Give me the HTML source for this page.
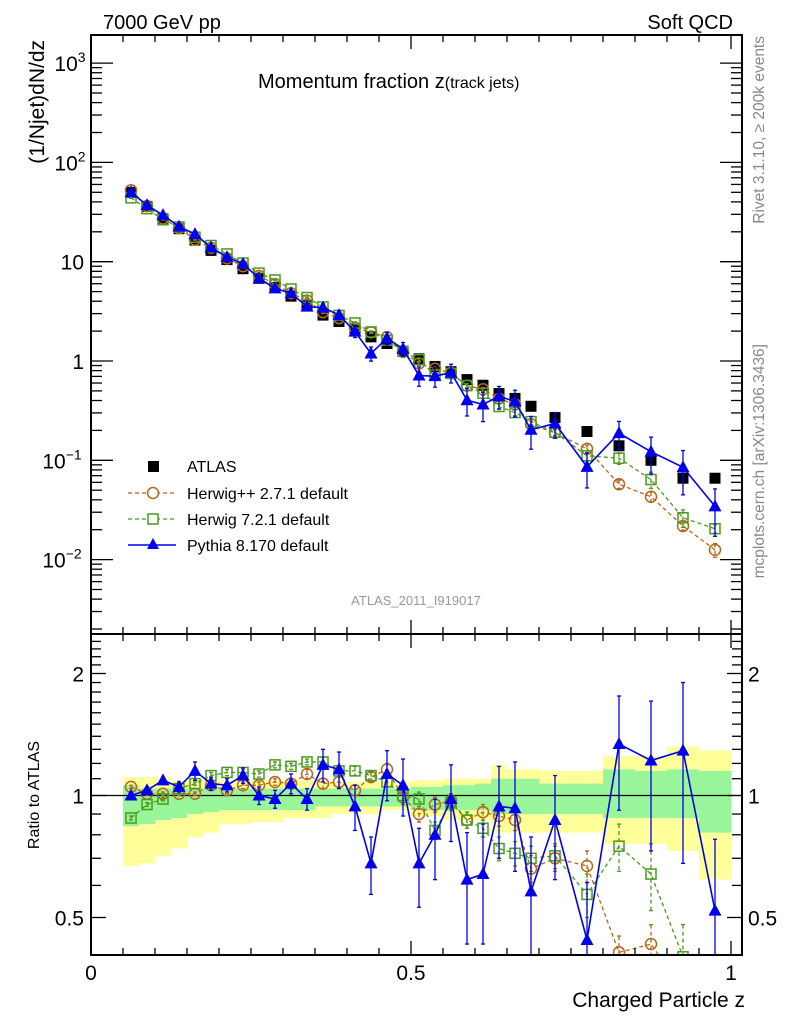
<!DOCTYPE html>
<html><head><meta charset="utf-8"><style>
html,body{margin:0;padding:0;background:#fff;width:786px;height:1024px;overflow:hidden;}
svg{display:block;font-family:"Liberation Sans",sans-serif;}
</style></head><body>
<svg id="chart" width="786" height="1024" viewBox="0 0 786 1024" xmlns="http://www.w3.org/2000/svg">
<text x="103" y="29" font-size="20">7000 GeV pp</text>
<text x="733" y="29" font-size="20" text-anchor="end">Soft QCD</text>
<text x="258" y="88" font-size="20">Momentum fraction z<tspan font-size="16">(track jets)</tspan></text>
<text transform="translate(44,40) rotate(-90)" font-size="21" text-anchor="end">(1/Njet)dN/dz</text>
<text transform="translate(764,36) rotate(-90)" font-size="15.5" fill="#888" text-anchor="end">Rivet 3.1.10, ≥ 200k events</text>
<text transform="translate(764,344) rotate(-90)" font-size="15.5" fill="#888" text-anchor="end">mcplots.cern.ch [arXiv:1306.3436]</text>
<text x="416" y="605" font-size="13" fill="#999" text-anchor="middle">ATLAS_2011_I919017</text>
<text transform="translate(39,795) rotate(-90)" font-size="16" text-anchor="middle">Ratio to ATLAS</text>
<text x="745" y="1007" font-size="21" text-anchor="end">Charged Particle z</text>
<g id="bands"></g>
<g id="main"></g>
<g id="ratio"></g>
<g id="axes"></g>
<g id="legend">
 <rect x="148" y="461" width="11" height="11" fill="#000"/>
 <text x="187" y="472" font-size="16">ATLAS</text>
 <line x1="128" y1="493" x2="176" y2="493" stroke="#b8651a" stroke-width="1.3" stroke-dasharray="4,3"/>
 <circle cx="153" cy="493" r="5.5" fill="#fff" stroke="#b8651a" stroke-width="1.5"/>
 <text x="187" y="499" font-size="16">Herwig++ 2.7.1 default</text>
 <line x1="128" y1="519" x2="176" y2="519" stroke="#4a9a1c" stroke-width="1.3" stroke-dasharray="4,3"/>
 <rect x="148" y="514" width="10" height="10" fill="#fff" stroke="#4a9a1c" stroke-width="1.5"/>
 <text x="187" y="525" font-size="16">Herwig 7.2.1 default</text>
 <line x1="128" y1="545" x2="176" y2="545" stroke="#0000ee" stroke-width="1.5"/>
 <polygon points="153,538 159,549 147,549" fill="#0000ee"/>
 <text x="187" y="551" font-size="16">Pythia 8.170 default</text>
</g>
</svg>
<script>
const binCenters=[0.0625,0.0875,0.1125,0.1375,0.1625,0.1875,0.2125,0.2375,0.2625,0.2875,0.3125,0.3375,0.3625,0.3875,0.4125,0.4375,0.4625,0.4875,0.5125,0.5375,0.5625,0.5875,0.6125,0.6375,0.6625,0.6875,0.725,0.775,0.825,0.875,0.925,0.975];
const binLo=[0.05,0.075,0.1,0.125,0.15,0.175,0.2,0.225,0.25,0.275,0.3,0.325,0.35,0.375,0.4,0.425,0.45,0.475,0.5,0.525,0.55,0.575,0.6,0.625,0.65,0.675,0.7,0.75,0.8,0.85,0.9,0.95];
const binHi=[0.075,0.1,0.125,0.15,0.175,0.2,0.225,0.25,0.275,0.3,0.325,0.35,0.375,0.4,0.425,0.45,0.475,0.5,0.525,0.55,0.575,0.6,0.625,0.65,0.675,0.7,0.75,0.8,0.85,0.9,0.95,1.0];
const atlas=[50,36,27,21.5,16.5,13,10.5,8.5,6.8,5.5,4.5,3.6,2.9,2.5,2.1,1.75,1.5,1.25,1.05,0.88,0.78,0.65,0.57,0.47,0.42,0.35,0.27,0.195,0.14,0.1,0.066,0.066];
const pythiaRatio=[1.0,1.03,1.09,1.05,1.15,1.07,1.06,1.12,1.0,0.98,1.07,0.98,1.19,1.16,0.94,0.68,1.13,1.06,0.68,0.8,0.98,0.62,0.64,0.94,0.93,0.58,0.87,0.44,1.34,1.22,1.29,0.52];
const pythiaErr=[0.02,0.02,0.02,0.03,0.06,0.04,0.04,0.05,0.05,0.05,0.06,0.06,0.11,0.12,0.12,0.11,0.16,0.17,0.15,0.18,0.21,0.19,0.21,0.24,0.28,0.21,0.25,0.17,0.42,0.49,0.61,0.26];
const herwigppRatio=[1.05,1.01,1.01,1.01,1.01,1.06,1.03,1.06,1.06,1.08,1.07,1.13,1.07,1.08,1.03,1.11,1.16,0.99,0.9,0.95,0.97,0.87,0.91,0.89,0.87,0.66,0.7,0.67,0.41,0.43,0.33,0.19];
const herwigppErr=[0.01,0.01,0.01,0.01,0.01,0.02,0.02,0.02,0.02,0.02,0.02,0.03,0.03,0.03,0.03,0.03,0.04,0.04,0.04,0.04,0.04,0.04,0.04,0.05,0.05,0.05,0.05,0.06,0.04,0.05,0.03,0.03];
const herwig7Ratio=[0.88,0.95,0.98,1.04,1.07,1.12,1.14,1.14,1.13,1.19,1.18,1.21,1.21,1.15,1.15,1.12,1.08,1.0,0.98,0.82,0.96,0.87,0.83,0.74,0.72,0.7,0.71,0.57,0.75,0.64,0.4,0.31];
const herwig7Err=[0.01,0.01,0.01,0.01,0.01,0.02,0.02,0.02,0.02,0.02,0.02,0.02,0.03,0.03,0.03,0.03,0.03,0.04,0.04,0.04,0.04,0.04,0.04,0.05,0.05,0.05,0.05,0.07,0.1,0.12,0.08,0.03];
const yellowHi=[1.11,1.11,1.11,1.09,1.09,1.09,1.09,1.09,1.09,1.09,1.09,1.09,1.08,1.08,1.08,1.08,1.08,1.08,1.09,1.09,1.1,1.1,1.1,1.19,1.16,1.16,1.15,1.15,1.25,1.25,1.32,1.29];
const yellowLo=[0.67,0.68,0.71,0.74,0.79,0.81,0.85,0.85,0.86,0.86,0.88,0.88,0.88,0.9,0.9,0.9,0.92,0.92,0.89,0.89,0.87,0.87,0.87,0.81,0.81,0.81,0.81,0.81,0.76,0.76,0.73,0.62];
const greenHi=[1.06,1.04,1.04,1.04,1.04,1.04,1.04,1.04,1.04,1.04,1.04,1.04,1.04,1.04,1.04,1.04,1.04,1.04,1.05,1.05,1.06,1.06,1.07,1.1,1.1,1.1,1.07,1.07,1.16,1.15,1.16,1.15];
const greenLo=[0.84,0.85,0.87,0.88,0.9,0.91,0.92,0.92,0.92,0.92,0.92,0.92,0.94,0.94,0.94,0.94,0.94,0.94,0.92,0.92,0.92,0.92,0.92,0.9,0.9,0.9,0.9,0.9,0.88,0.88,0.88,0.81];
const mainTickLabels=["10","1"];

const NS="http://www.w3.org/2000/svg";
const X0=91,X1=742,ZX0=91,ZSC=640;
const MT=35,MB=634,RT=634,RB=955;
function sx(z){return ZX0+ZSC*z;}
function sy(v){return 361-99.3*Math.log10(v);}
function ry(r){return 795.5-122*Math.log2(r);}
function clamp(v,a,b){return Math.max(a,Math.min(b,v));}
function mk(tag,attrs,parent){const e=document.createElementNS(NS,tag);for(const k in attrs)e.setAttribute(k,attrs[k]);parent.appendChild(e);return e;}
const gB=document.getElementById('bands'),gM=document.getElementById('main'),gR=document.getElementById('ratio'),gA=document.getElementById('axes');

// build a polyline path clipped in y to [top,bot]
function clippedPath(pts,top,bot){
  let d='',pen=false;
  for(let i=0;i<pts.length-1;i++){
    let [xa,ya]=pts[i],[xb,yb]=pts[i+1];
    // clip segment
    let t0=0,t1=1;const dy=yb-ya;
    if(dy!==0){
      const tt=(top-ya)/dy,tb=(bot-ya)/dy;
      const lo=Math.min(tt,tb),hi=Math.max(tt,tb);
      t0=Math.max(t0,lo);t1=Math.min(t1,hi);
    }else if(ya<top||ya>bot){pen=false;continue;}
    if(t0>t1){pen=false;continue;}
    const x0=xa+(xb-xa)*t0,y0=ya+dy*t0,x1=xa+(xb-xa)*t1,y1=ya+dy*t1;
    if(!pen||t0>0)d+='M'+x0.toFixed(2)+','+y0.toFixed(2);
    d+='L'+x1.toFixed(2)+','+y1.toFixed(2);
    pen=(t1===1);
  }
  return d;
}

const defs=mk('defs',{},document.getElementById('chart'));
const c1=mk('clipPath',{id:'cm'},defs);mk('rect',{x:X0,y:MT,width:X1-X0,height:MB-MT},c1);
const c2=mk('clipPath',{id:'cr'},defs);mk('rect',{x:X0,y:RT,width:X1-X0,height:RB-RT},c2);
gM.setAttribute('clip-path','url(#cm)');gR.setAttribute('clip-path','url(#cr)');gB.setAttribute('clip-path','url(#cr)');

for(let i=0;i<binCenters.length;i++){
  const y=mk('rect',{x:sx(binLo[i]),width:sx(binHi[i])-sx(binLo[i])+0.5,y:ry(yellowHi[i]),height:ry(yellowLo[i])-ry(yellowHi[i]),fill:'#ffff99'},gB);
  
  
  const g=mk('rect',{x:sx(binLo[i]),width:sx(binHi[i])-sx(binLo[i])+0.5,y:ry(greenHi[i]),height:ry(greenLo[i])-ry(greenHi[i]),fill:'#99f599'},gB);
  
  
}
const one=mk('line',{x1:X0,x2:X1,y1:ry(1),y2:ry(1),stroke:'#000','stroke-width':1.3},gB);



const series=[
 {name:'herwigpp',ratio:herwigppRatio,err:herwigppErr,color:'#b8651a',dash:'4,3',marker:'circle'},
 {name:'herwig7',ratio:herwig7Ratio,err:herwig7Err,color:'#4a9a1c',dash:'4,3',marker:'square'},
 {name:'pythia',ratio:pythiaRatio,err:pythiaErr,color:'#0000ee',dash:'',marker:'tri'}
];
function marker(s,cx,cy,top,bot,parent,label){
  if(cy<top-3||cy>bot+3)return;
  let e;
  if(s.marker==='circle')e=mk('circle',{cx:cx,cy:cy,r:5.5,fill:'none',stroke:s.color,'stroke-width':1.5},parent);
  else if(s.marker==='square')e=mk('rect',{x:cx-5,y:cy-5,width:10,height:10,fill:'none',stroke:s.color,'stroke-width':1.5},parent);
  else e=mk('polygon',{points:(cx)+','+(cy-7)+' '+(cx+6.5)+','+(cy+5)+' '+(cx-6.5)+','+(cy+5),fill:s.color},parent);
  
  
}
function errbar(s,cx,y1,y2,top,bot,parent){
  const a=clamp(y1,top,bot),b=clamp(y2,top,bot);
  if(a===b)return;
  mk('line',{x1:cx,x2:cx,y1:a,y2:b,stroke:s.color,'stroke-width':1.3,'stroke-dasharray':s.dash},parent);
  if(y1>=top&&y1<=bot)mk('line',{x1:cx-2,x2:cx+2,y1:a,y2:a,stroke:s.color,'stroke-width':1.3},parent);
  if(y2>=top&&y2<=bot)mk('line',{x1:cx-2,x2:cx+2,y1:b,y2:b,stroke:s.color,'stroke-width':1.3},parent);
}
for(let i=0;i<binCenters.length;i++){
  const r=mk('rect',{x:sx(binCenters[i])-5.5,y:sy(atlas[i])-5.5,width:11,height:11,fill:'#000'},gM);
  
  
}
series.forEach(s=>{
  const mv=s.ratio.map((r,i)=>r*atlas[i]);
  const ptsM=binCenters.map((z,i)=>[sx(z),sy(mv[i])]);
  const ptsR=binCenters.map((z,i)=>[sx(z),ry(s.ratio[i])]);
  const p=mk('path',{d:clippedPath(ptsM,MT,MB),fill:'none',stroke:s.color,'stroke-width':s.dash?1.3:1.6,'stroke-dasharray':s.dash},gM);
  
  
  const pr=mk('path',{d:clippedPath(ptsR,RT,RB),fill:'none',stroke:s.color,'stroke-width':s.dash?1.3:1.6,'stroke-dasharray':s.dash},gR);
  
  
  binCenters.forEach((z,i)=>{
    const cx=sx(z);
    errbar(s,cx,sy(mv[i]+s.err[i]*atlas[i]),sy(Math.max(mv[i]-s.err[i]*atlas[i],1e-3)),MT,MB,gM);
    errbar(s,cx,ry(s.ratio[i]+s.err[i]),ry(Math.max(s.ratio[i]-s.err[i],0.1)),RT,RB,gR);
    marker(s,cx,sy(mv[i]),MT,MB,gM,s.name+'-point');
    marker(s,cx,ry(s.ratio[i]),RT,RB,gR,s.name+'-ratio-point');
  });
});

[[MT,MB],[RT,RB]].forEach(([t,b])=>{
  const f=mk('rect',{x:X0,y:t,width:X1-X0,height:b-t,fill:'none',stroke:'#000','stroke-width':2},gA);
  
  
});
function L(x1,y1,x2,y2,w){mk('line',{x1:x1,y1:y1,x2:x2,y2:y2,stroke:'#000','stroke-width':w||1.3},gA);}
for(let k=0;k<=20;k++){
  const z=k*0.05,x=sx(z);const major=(k%10===0);const len=major?14:7;
  [[MT,1],[MB,-1],[RT,1],[RB,-1]].forEach(([y,dir])=>L(x,y,x,y+dir*len));
}
for(let e=-3;e<=3;e++){
  for(let m=1;m<=9;m++){
    const v=m*Math.pow(10,e);const y=sy(v);if(y<MT||y>MB)continue;
    const len=m===1?22:11;L(X0,y,X0+len,y);L(X1,y,X1-len,y);
  }
}
function T(x,y,txt,size,name,anchor){const t=mk('text',{x:x,y:y,'font-size':size,'text-anchor':anchor||'end'},gA);t.textContent=txt;return t;}
[[3,'10','3'],[2,'10','2'],[-1,'10','−1'],[-2,'10','−2']].forEach(([e,b,sup])=>{
  const t=mk('text',{x:sup.length>1?62:70,y:sy(Math.pow(10,e))+8,'font-size':21,'text-anchor':'middle'},gA);
  
  
  t.textContent=b;
  const s=mk('tspan',{'font-size':14,dy:-9},t);s.textContent=sup;
});
T(84,sy(10)+8,mainTickLabels[0],21,'y-tick-label');
T(84,sy(1)+8,mainTickLabels[1],21,'y-tick-label');
[0.5,0.6,0.7,0.8,0.9,1,1.1,1.2,1.3,1.4,1.5,1.6,1.7,1.8,1.9,2,2.1,2.2,2.3,2.4,2.5].forEach(r=>{
  const y=ry(r);if(y<RT||y>RB)return;const major=(r===0.5||r===1||r===2);const len=major?15:10;
  L(X0,y,X0+len,y);L(X1,y,X1-len,y);
});
[[2,'2'],[1,'1'],[0.5,'0.5']].forEach(([r,s])=>{T(84,ry(r)+8,s,21,'ratio-tick-label');T(748,ry(r)+8,s,21,'ratio-tick-label','start');});
[[0,'0'],[0.5,'0.5'],[1,'1']].forEach(([z,s])=>T(sx(z),980,s,21,'x-tick-label','middle'));
</script>
</body></html>
